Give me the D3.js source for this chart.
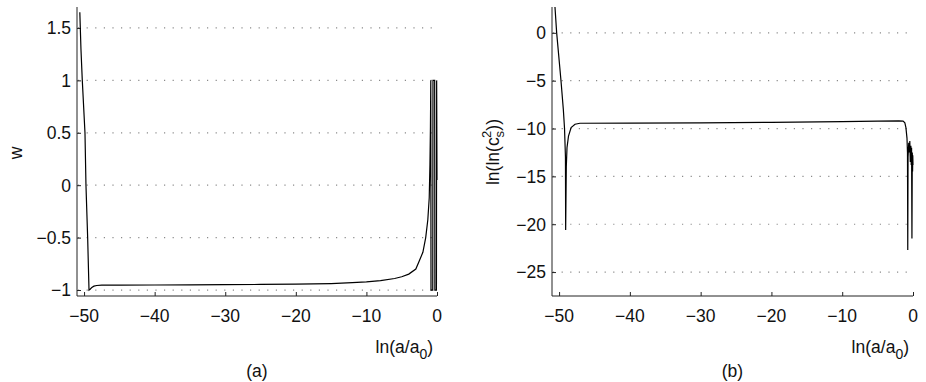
<!DOCTYPE html>
<html><head><meta charset="utf-8">
<script src="https://cdn.jsdelivr.net/npm/d3@7"></script>
<style>
body{margin:0;background:#fff;}
svg text{font-family:"Liberation Sans",Arial,Helvetica,sans-serif;}
</style></head>
<body><svg id="c" width="926" height="382"></svg>
<script>
// Panel (a): w vs ln(a/a0)
const wX = [-50.6,-50.44,-50.25,-49.87,-49.73,-49.49,-49.3,-49.1,-48.9,-48.6,-48.2,-47.5,-45,-40,-35,-30,-25,-20,-15,-12,-10,-8,-6,-5,-4,-3,-2.5,-2,-1.6,-1.3,-1.1,-1.0,-0.93,-0.88,-0.85,-0.6,-0.57,-0.33,-0.3,-0.08,-0.05,0];
const wY = [1.65,1.3,1.0,0.5,0.0,-0.5,-1.0,-0.99,-0.975,-0.963,-0.957,-0.954,-0.953,-0.952,-0.951,-0.949,-0.947,-0.944,-0.938,-0.93,-0.922,-0.91,-0.89,-0.873,-0.848,-0.8,-0.72,-0.64,-0.5,-0.33,-0.12,0.2,0.55,1.0,-1.0,-1.0,1.0,1.0,-1.0,-1.0,1.0,0.05];
// Panel (b): ln(ln(c_s^2)) vs ln(a/a0)
const cX = [-50.75,-50.58,-50.34,-49.73,-49.4,-49.23,-49.1,-49.07,-48.98,-48.88,-48.67,-48.3,-47.75,-47.05,-40,-30,-20,-10,-5,-2,-1.4,-1.15,-1.0,-0.85,-0.78,-0.74,-0.7,-0.6,-0.5,-0.45,-0.38,-0.3,-0.25,-0.2,-0.15,-0.1,-0.06,-0.03,0];
const cY = [4,2.7,0,-5,-8,-10,-13,-20.6,-14,-12,-10.8,-9.9,-9.55,-9.45,-9.44,-9.4,-9.35,-9.28,-9.22,-9.2,-9.22,-9.4,-9.9,-11.0,-12.5,-22.7,-13,-11.5,-12.5,-11.3,-13.5,-11.8,-13.8,-12,-21.5,-12.5,-14.5,-12.8,-13.8];

const xTicks = [-50,-40,-30,-20,-10,0];
const wTicks = [-1,-0.5,0,0.5,1,1.5];
const cTicks = [-25,-20,-15,-10,-5,0];

const FS = 17.5;
const svg = d3.select("#c");
const fmt = v => (v<0 ? "\u2212" + Math.abs(v) : String(v));

function panel(opts){
  const {x0,x1,y0,y1,xs,ys,yDom,yTicks,id} = opts;
  const x = d3.scaleLinear().domain([-51,0]).range([x0,x1]);
  const y = d3.scaleLinear().domain(yDom).range([y1,y0]);
  const g = svg.append("g");
  g.append("clipPath").attr("id",id).append("rect")
    .attr("x",x0).attr("y",y0).attr("width",x1-x0+2).attr("height",y1-y0);
  // grid
  g.selectAll(".grid").data(yTicks).enter().append("line")
    .attr("x1",x0+1).attr("x2",x1).attr("y1",d=>y(d)).attr("y2",d=>y(d))
    .attr("stroke","#8a8a8a").attr("stroke-width",1.2).attr("stroke-dasharray","1.2,7.4");
  // y axis
  const ya = g.append("g").attr("transform",`translate(${x0},0)`)
    .call(d3.axisRight(y).tickValues(yTicks).tickSize(4).tickFormat(""));
  ya.select(".domain").attr("d",`M0,${y0}V${y1}`).attr("stroke","#222");
  ya.selectAll(".tick line").attr("stroke","#222");
  g.selectAll(".ylab").data(yTicks).enter().append("text")
    .attr("x",x0-6).attr("y",d=>y(d)).attr("dy","0.36em")
    .attr("text-anchor","end").attr("font-size",FS).attr("fill","#111").text(fmt);
  // x axis
  const xa = g.append("g").attr("transform",`translate(0,${y1})`)
    .call(d3.axisTop(x).tickValues(xTicks).tickSize(4).tickFormat(""));
  xa.select(".domain").attr("d",`M${x0},0H${x1}`).attr("stroke","#222");
  xa.selectAll(".tick line").attr("stroke","#222");
  g.selectAll(".xlab").data(xTicks).enter().append("text")
    .attr("x",d=>x(d)).attr("y",y1+26).attr("text-anchor","middle")
    .attr("font-size",FS).attr("fill","#111").text(fmt);
  // curve
  const pts = xs.map((v,i)=>[v,ys[i]]);
  g.append("path").datum(pts).attr("clip-path",`url(#${id})`)
    .attr("fill","none").attr("stroke","#000").attr("stroke-width",1.2)
    .attr("d",d3.line().x(d=>x(d[0])).y(d=>y(d[1])));
  // x title
  const t = g.append("text").attr("x",x1-4).attr("y",y1+57).attr("text-anchor","end")
    .attr("font-size",FS).attr("fill","#111");
  t.append("tspan").text("ln(a/a");
  t.append("tspan").attr("dy",6).attr("font-size",14).text("0");
  t.append("tspan").attr("dy",-6).text(")");
  // panel label
  g.append("text").attr("x",(x0+x1)/2).attr("y",377).attr("text-anchor","middle")
    .attr("font-size",FS).attr("fill","#111").text(opts.label);
  return g;
}

panel({x0:77,x1:437,y0:7,y1:296,xs:wX,ys:wY,yDom:[-1.057,1.70],yTicks:wTicks,id:"ca",label:"(a)"});
panel({x0:552,x1:913,y0:7,y1:296,xs:cX,ys:cY,yDom:[-27.5,2.7],yTicks:cTicks,id:"cb",label:"(b)"});

// y titles
svg.append("text").attr("transform","translate(22,153) rotate(-90)")
  .attr("text-anchor","middle").attr("font-size",FS).attr("fill","#111").text("w");
const yt = svg.append("text").attr("transform","translate(499,152) rotate(-90)")
  .attr("text-anchor","middle").attr("font-size",FS).attr("fill","#111");
yt.append("tspan").text("ln(ln(c");
yt.append("tspan").attr("dy",5).attr("font-size",13).text("s");
yt.append("tspan").attr("dx",-7).attr("dy",-13).attr("font-size",13).text("2");
yt.append("tspan").attr("dy",8).text("))");
</script></body></html>
